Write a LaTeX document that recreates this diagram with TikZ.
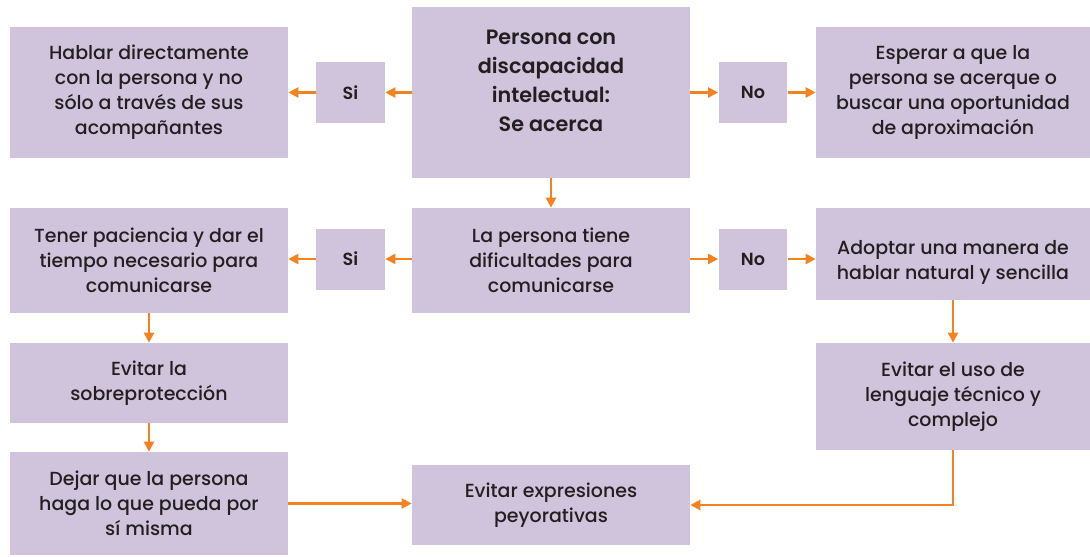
\documentclass[tikz,border=0pt]{standalone}
\usepackage{fontspec}
\setmainfont{Poppins}[UprightFont=* Medium,BoldFont=* SemiBold]
\usetikzlibrary{arrows.meta}
\definecolor{lila}{HTML}{D0C4DD}
\definecolor{naranja}{HTML}{F58220}
\definecolor{tinta}{HTML}{231F20}
\begin{document}
\begin{tikzpicture}[x=0.02cm,y=-0.02cm,
        box/.style={fill=lila,align=center,inner sep=0pt,text=tinta,minimum width=5.56cm,font=\fontsize{10.8}{14.2}\selectfont},
        sibox/.style={fill=lila,align=center,inner sep=0pt,text=tinta,minimum width=1.38cm,minimum height=1.22cm,font=\fontsize{10}{12}\selectfont\bfseries},
        flecha/.style={draw=naranja,line width=1.3pt,-{Triangle[length=2mm,width=2mm]}}]
        \useasboundingbox (0,0) rectangle (1090,556);

        \node[box,minimum height=3.42cm,font=\fontsize{11.8}{16.4}\selectfont\bfseries] at (551, 92.5) (persona) {Persona con\\discapacidad\\intelectual:\\Se acerca\\[-3pt]\mbox{}};
        \node[sibox] at (350.5, 92.5) (si1) {Si};
        \node[box,minimum height=2.62cm] at (149, 92.5) (hablar) {Hablar directamente\\con la persona y no\\sólo a través de sus\\acompañantes};
        \node[sibox] at (753, 92.5) (no1) {No};
        \node[box,minimum height=2.62cm,minimum width=5.48cm] at (953, 92.5) (esperar) {Esperar a que la\\persona se acerque o\\buscar una oportunidad\\de aproximación};

        \node[box,minimum height=2.1cm] at (551, 260.5) (tiene) {La persona tiene\\dificultades para\\comunicarse};
        \node[sibox] at (350.5, 259) (si2) {Si};
        \node[box,minimum height=2.1cm] at (149, 260.5) (tener) {Tener paciencia y dar el\\tiempo necesario para\\comunicarse};
        \node[sibox] at (753, 259) (no2) {No};
        \node[box,minimum height=1.84cm,minimum width=5.48cm] at (953, 254) (adoptar) {\mbox{}\\[3pt]Adoptar una manera de\\hablar natural y sencilla};

        \node[box,minimum height=1.6cm] at (149, 383) (sobre) {Evitar la\\sobreprotección};
        \node[box,minimum height=2.06cm] at (149, 503.5) (dejar) {Dejar que la persona\\haga lo que pueda por\\sí misma};
        \node[box,minimum height=2.14cm,minimum width=5.48cm] at (953, 396.5) (tecnico) {Evitar el uso de\\lenguaje técnico y\\complejo};
        \node[box,minimum height=1.6cm] at (551, 505) (peyor) {Evitar expresiones\\peyorativas};

        \draw[flecha] (persona) -- (si1);
        \draw[flecha] (si1) -- (hablar);
        \draw[flecha] (persona) -- (no1);
        \draw[flecha] (no1) -- (esperar);
        \draw[flecha] (persona) -- (tiene);
        \draw[flecha] (tiene.west |- si2) -- (si2);
        \draw[flecha] (si2) -- (tener.east |- si2);
        \draw[flecha] (tiene.east |- no2) -- (no2);
        \draw[flecha] (no2) -- (adoptar.west |- no2);
        \draw[flecha] (tener) -- (sobre);
        \draw[flecha] (sobre) -- (dejar);
        \draw[flecha] (adoptar) -- (tecnico);
        \draw[flecha] (dejar.east) -- (peyor.west |- dejar.east);
        \draw[flecha] (tecnico.south) |- (peyor.east);
\end{tikzpicture}
\end{document}
